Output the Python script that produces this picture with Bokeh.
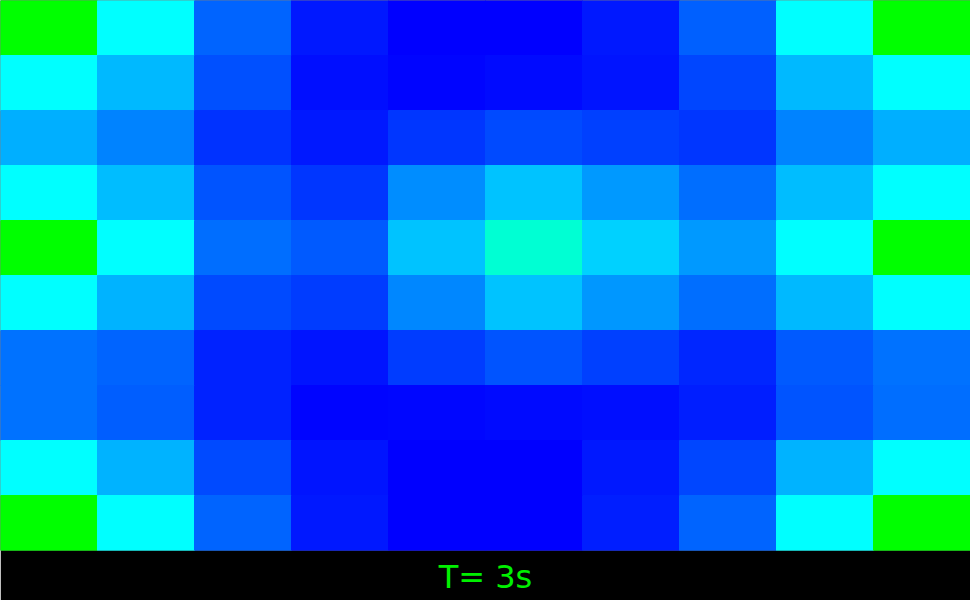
from bokeh.plotting import figure
from bokeh.models import LinearColorMapper, ColumnDataSource, Title
from bokeh.transform import transform
from bokeh.embed import file_html
from bokeh.resources import INLINE

# Field values (normalised 0..1), rows listed top to bottom
row0 = [1.00, 0.50, 0.196, 0.05, 0.00, 0.00, 0.05, 0.19, 0.50, 1.00]
row1 = [0.50, 0.36, 0.157, 0.03, 0.01, 0.02, 0.04, 0.137, 0.36, 0.50]
row2 = [0.34, 0.255, 0.10, 0.05, 0.108, 0.147, 0.127, 0.108, 0.255, 0.34]
row3 = [0.50, 0.37, 0.167, 0.108, 0.275, 0.38, 0.30, 0.216, 0.37, 0.50]
row4 = [1.00, 0.50, 0.216, 0.176, 0.38, 0.588, 0.41, 0.30, 0.50, 1.00]
row5 = [0.50, 0.35, 0.147, 0.118, 0.265, 0.38, 0.294, 0.216, 0.36, 0.50]
row6 = [0.225, 0.196, 0.07, 0.04, 0.118, 0.167, 0.127, 0.078, 0.176, 0.225]
row7 = [0.225, 0.186, 0.07, 0.01, 0.015, 0.02, 0.03, 0.06, 0.167, 0.216]
row8 = [0.50, 0.35, 0.147, 0.04, 0.00, 0.00, 0.05, 0.137, 0.35, 0.50]
row9 = [1.00, 0.50, 0.196, 0.05, 0.00, 0.00, 0.06, 0.196, 0.50, 1.00]
rows = [row0, row1, row2, row3, row4, row5, row6, row7, row8, row9]
time_label = "T= 3s"

# colormap: blue -> cyan -> green
palette = []
for i in range(128):
    palette.append("#%02x%02x%02x" % (0, round(i * 255 / 127), 255))
for i in range(128):
    palette.append("#%02x%02x%02x" % (0, 255, round(255 - i * 255 / 127)))
mapper = LinearColorMapper(palette=palette, low=0.0, high=1.0)

xs, ys, vs = [], [], []
n = len(rows)
for r, row in enumerate(rows):
    for c, v in enumerate(row):
        xs.append(c + 0.5)
        ys.append(n - r - 0.5)
        vs.append(v)
src = ColumnDataSource(dict(x=xs, y=ys, v=vs))

p = figure(width=970, height=600, x_range=(0, 10), y_range=(0, 10),
           output_backend="svg", toolbar_location=None,
           min_border=0, min_border_bottom=50)
p.axis.visible = False
p.grid.visible = False
p.outline_line_color = None
p.border_fill_color = "black"
p.background_fill_color = "black"

p.rect(x="x", y="y", width=1, height=1, source=src,
       fill_color=transform("v", mapper), line_color=transform("v", mapper),
       line_width=1)

t = Title(text=time_label, align="center", text_color="#00f000",
          text_font="DejaVu Sans", text_font_size="32px",
          text_font_style="normal", standoff=10)
p.add_layout(t, "below")

open("out.html", "w").write(file_html(p, INLINE))
